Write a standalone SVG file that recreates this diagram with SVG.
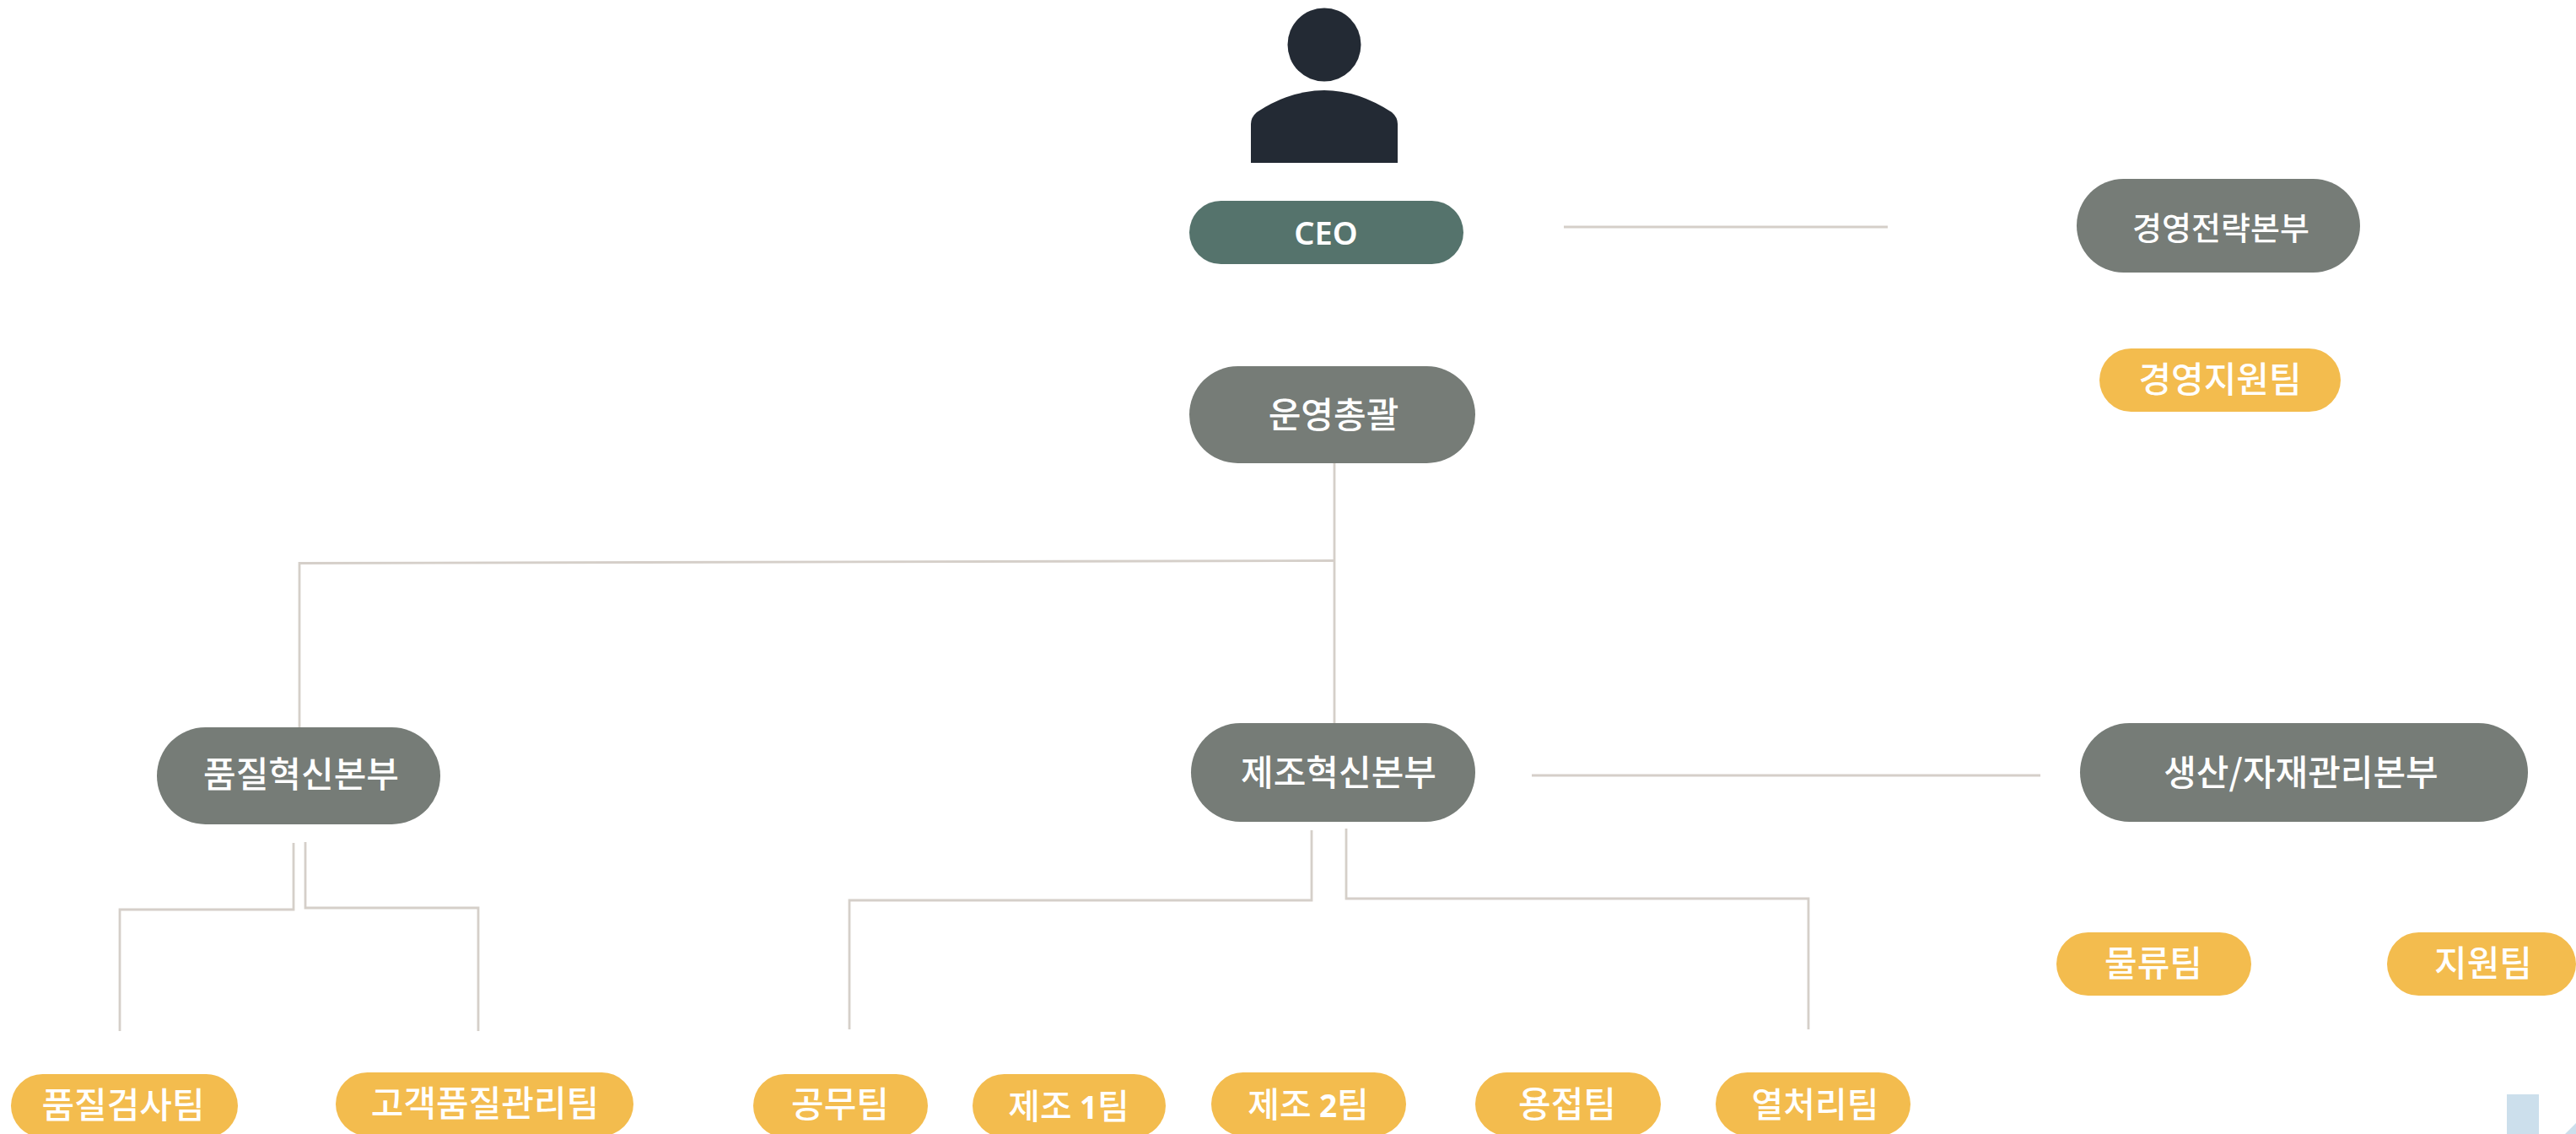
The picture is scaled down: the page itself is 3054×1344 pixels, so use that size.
<svg xmlns="http://www.w3.org/2000/svg" width="3054" height="1344" viewBox="0 0 3054 1344">
<style>
.bg{fill:#fff}
.g{fill:#767c77}
.o{fill:#f3bc4e}
.c{fill:#55736c}
.p{fill:#232a34}
.t{font-family:"Noto Sans CJK KR","Noto Sans",sans-serif;font-weight:500;font-size:42px;fill:#fff;text-anchor:middle}
.s{font-size:38px}
.n{font-size:41px}
.d{font-family:"Noto Sans",sans-serif;font-weight:700;font-size:37px}
.e{font-family:"Noto Sans",sans-serif;font-weight:600;font-size:38px}
.l{fill:none;stroke:#d5cfc9;stroke-width:2.8}
</style>
<rect class="bg" width="3054" height="1344"/>
<g id="connectors">
<path class="l" d="M1854 269H2238"/>
<path class="l" d="M1582 549V864"/>
<path class="l" d="M1582 664.5L355 667.5V866"/>
<path class="l" d="M1816 919H2419"/>
<path class="l" d="M348 999V1078H142V1222"/>
<path class="l" d="M362 998V1076H567V1222"/>
<path class="l" d="M1555 984V1067H1007V1220"/>
<path class="l" d="M1596 982V1065H2144V1220"/>
</g>
<g id="person"><circle class="p" cx="1570" cy="53" r="43.5"/><path class="p" d="M1483 193V147Q1483 139 1490 133Q1530 107 1570 107Q1610 107 1650 133Q1657 139 1657 147V193Z"/></g>
<g id="ceo"><rect class="c" x="1410" y="238" width="325" height="75" rx="37.5"/><text class="t e" x="1572" y="290">CEO</text></g>
<g id="strategy"><rect class="g" x="2462" y="212" width="336" height="111" rx="55.5"/><text class="t s" x="2633" y="284">경영전략본부</text></g>
<g id="mgmt-support"><rect class="o" x="2489" y="413" width="286" height="75" rx="37.5"/><text class="t" x="2632" y="465">경영지원팀</text></g>
<g id="operations"><rect class="g" x="1410" y="434" width="339" height="115" rx="57.5"/><text class="t" x="1581" y="507">운영총괄</text></g>
<g id="quality"><rect class="g" x="186" y="862" width="336" height="115" rx="57.5"/><text class="t" x="357" y="933">품질혁신본부</text></g>
<g id="manufacturing"><rect class="g" x="1412" y="857" width="337" height="117" rx="58.5"/><text class="t" x="1587" y="931">제조혁신본부</text></g>
<g id="production"><rect class="g" x="2466" y="857" width="531" height="117" rx="58.5"/><text class="t" x="2728" y="931">생산/자재관리본부</text></g>
<g id="logistics"><rect class="o" x="2438" y="1105" width="231" height="75" rx="37.5"/><text class="t" x="2553" y="1157">물류팀</text></g>
<g id="support"><rect class="o" x="2830" y="1105" width="224" height="75" rx="37.5"/><text class="t" x="2944" y="1157">지원팀</text></g>
<g id="inspection"><rect class="o" x="13" y="1273" width="269" height="75" rx="37.5"/><text class="t" x="146" y="1325">품질검사팀</text></g>
<g id="customer-quality"><rect class="o" x="398" y="1271" width="353" height="75" rx="37.5"/><text class="t" x="575" y="1323">고객품질관리팀</text></g>
<g id="engineering"><rect class="o" x="893" y="1273" width="207" height="75" rx="37.5"/><text class="t" x="996" y="1324">공무팀</text></g>
<g id="mfg1"><rect class="o" x="1153" y="1273" width="229" height="75" rx="37.5"/><text class="t n" x="1267" y="1326">제조 <tspan class="d">1</tspan>팀</text></g>
<g id="mfg2"><rect class="o" x="1436" y="1271" width="231" height="75" rx="37.5"/><text class="t n" x="1551" y="1324">제조 <tspan class="d">2</tspan>팀</text></g>
<g id="welding"><rect class="o" x="1749" y="1271" width="220" height="75" rx="37.5"/><text class="t" x="1858" y="1324">용접팀</text></g>
<g id="heat"><rect class="o" x="2034" y="1271" width="231" height="75" rx="37.5"/><text class="t n" x="2152" y="1324">열처리팀</text></g>
<g id="corner"><path fill="#ccdfec" d="M2972 1297H3010V1344H2972ZM3054 1331V1344H3041Z"/></g>
</svg>
